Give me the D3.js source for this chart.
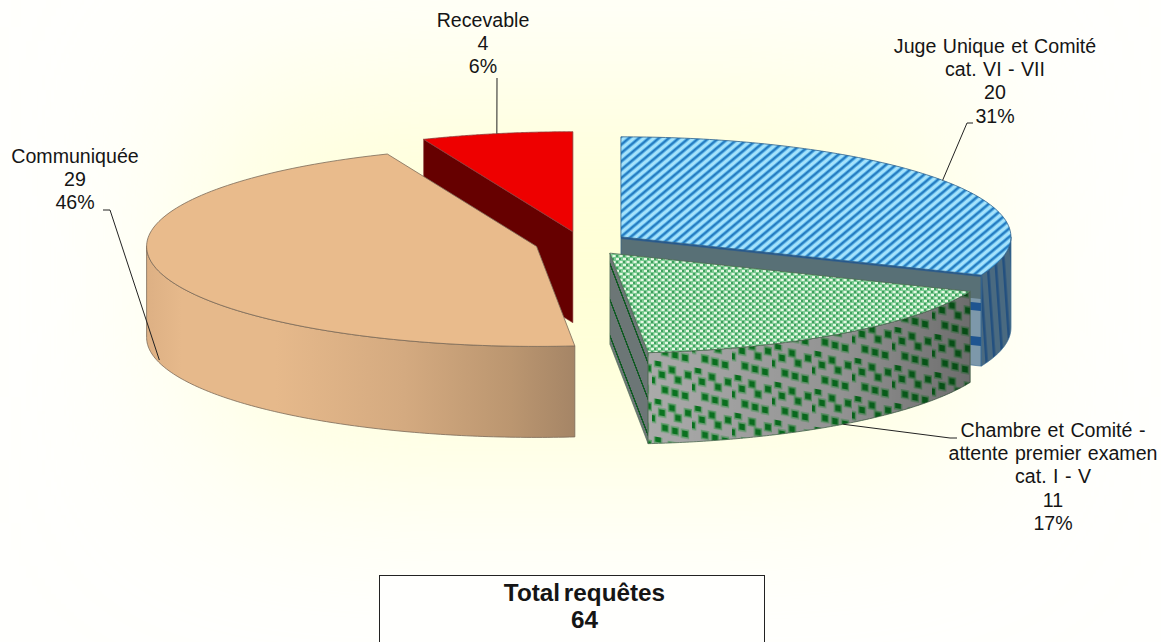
<!DOCTYPE html>
<html>
<head>
<meta charset="utf-8">
<script src="https://cdn.jsdelivr.net/npm/d3@7"></script>
<style>
  html, body { margin: 0; padding: 0; background: #fff; overflow: hidden; }
  svg { display: block; }
  text { font-family: "Liberation Sans", Arial, sans-serif; fill: #151515; }
</style>
</head>
<body>
<svg id="chart" width="1161" height="642"></svg>
<script>
// data
const categories = ['Juge Unique et Comité', 'Chambre et Comité', 'Communiquée', 'Recevable'];
const values = [20, 11, 29, 4];
const percents = ['31%', '17%', '46%', '6%'];
const labelLines = [
  ['Juge Unique et Comité', 'cat. VI - VII'],
  ['Chambre et Comité -', 'attente premier examen', 'cat. I - V'],
  ['Communiquée'],
  ['Recevable'],
];
const totalLines = ['Total requêtes', '64'];

// layout
const width = 1161, height = 642;
const cx = 582, cy = 243.5, rx = 390, ry = 100, depth = 91, explode = 0.12;
const fontSize = 19.6, lineStep = 23.2;

const svg = d3.select('#chart');
const defs = svg.append('defs');

// background: soft yellow glow, blurred rectangle on white
const glow = defs.append('filter').attr('id', 'glow')
  .attr('filterUnits', 'userSpaceOnUse')
  .attr('x', -200).attr('y', -200).attr('width', width + 400).attr('height', height + 400);
glow.append('feGaussianBlur').attr('stdDeviation', 95);
svg.append('rect').attr('width', width).attr('height', height).attr('fill', '#fffffd');
svg.append('rect').attr('x', 210).attr('y', 90).attr('width', 740).attr('height', 370)
  .attr('fill', '#ffffd6').attr('filter', 'url(#glow)');

function pattern(id, w, h, transform, draw) {
  const p = defs.append('pattern').attr('id', id)
    .attr('patternUnits', 'userSpaceOnUse')
    .attr('width', w).attr('height', h);
  if (transform) p.attr('patternTransform', transform);
  draw(p);
}
function box(p, x, y, w, h, c) {
  p.append('rect').attr('x', x).attr('y', y).attr('width', w).attr('height', h).attr('fill', c);
}

// blue diagonal stripes
pattern('blueTop', 6.4, 6.4, 'rotate(-40)', p => {
  box(p, 0, 0, 6.4, 6.4, '#a6e2fb');
  box(p, 0, 2.8, 6.4, 0.9, '#55b2e8');
  box(p, 0, 3.7, 6.4, 1.7, '#1c72ba');
  box(p, 0, 5.4, 6.4, 0.9, '#55b2e8');
});
pattern('blueSide', 8, 20, 'skewX(4)', p => {
  box(p, 0, 0, 8, 20, '#4a6a80');
  box(p, 0, 0, 2.6, 20, '#23507f');
});
// bands run parallel to the top edge of the cut face
pattern('blueCut', 20, 100, 'translate(621,237) skewY(6.03)', p => {
  box(p, 0, 0, 20, 100, '#7d98aa');
  box(p, 0, 0, 20, 24, '#587076');
  box(p, 0, 0, 20, 1.6, '#1e5490');
  box(p, 0, 28, 20, 8, '#1e5490');
  box(p, 0, 62, 20, 9, '#1e5490');
});

// green tiny check on top
pattern('greenTop', 7, 6, null, p => {
  box(p, 0, 0, 7, 6, '#7ccb92');
  box(p, 0, 0, 3, 2, '#e6f7e4');
  box(p, 3.5, 3, 3, 2, '#e6f7e4');
  box(p, 3, 0, 2, 2, '#3f9f5e');
  box(p, 0, 3, 2, 2, '#3f9f5e');
});
// green squares on grey wall
pattern('greenSide', 40, 38, 'translate(652,360) skewY(10)', p => {
  box(p, 0, 0, 40, 38, '#aaaaaa');
  const squares = [[6, 2], [10, 13], [20, 6.5], [13, 27.7], [23, 29], [36, 8.7], [26, 15.5], [0, 20], [33, 30]];
  squares.forEach(d => box(p, d[0] - 4.2, d[1] - 4.6, 8.4, 9.2, '#65a070'));
  squares.forEach(d => box(p, d[0] - 2.8, d[1] - 3, 5.6, 6, '#0a7420'));
});
pattern('greenCut', 20, 36, 'translate(610,262) skewY(69)', p => {
  box(p, 0, 0, 20, 36, '#6c7676');
  box(p, 0, 0, 20, 4, '#0f5a22');
});

// shading on the outer walls
const shade = defs.append('linearGradient').attr('id', 'greenShade')
  .attr('gradientUnits', 'userSpaceOnUse').attr('x1', 648).attr('x2', 970).attr('y1', 0).attr('y2', 0);
[[0, 0], [0.6, 0.14], [1, 0.36]].forEach(s => {
  shade.append('stop').attr('offset', s[0]).attr('stop-color', '#000').attr('stop-opacity', s[1]);
});
const tan = defs.append('linearGradient').attr('id', 'tanSide')
  .attr('gradientUnits', 'userSpaceOnUse').attr('x1', 147).attr('x2', 575).attr('y1', 0).attr('y2', 0);
[[0, '#ddb084'], [0.08, '#e6b98b'], [0.3, '#e6b98b'], [0.6, '#d4aa80'], [0.85, '#bb9670'], [1, '#a58566']].forEach(s => {
  tan.append('stop').attr('offset', s[0]).attr('stop-color', s[1]);
});

const sliceStyles = [
  { top: 'url(#blueTop)', side: 'url(#blueSide)', cut: 'url(#blueCut)', edge: '#2c5f8c' },
  { top: 'url(#greenTop)', side: 'url(#greenSide)', cut: 'url(#greenCut)', edge: '#4c6a52', overlay: 'url(#greenShade)' },
  { top: '#e9bb8c', side: 'url(#tanSide)', cut: '#a58566', edge: '#7b6a58' },
  { top: '#ee0000', side: '#660000', cut: '#660000', edge: '#8a3a3a' },
];

// pie geometry, angles clockwise from 12 o'clock
const pie = d3.pie().sort(null).value(d => d);
const slices = pie(values).map((d, i) => {
  const mid = (d.startAngle + d.endAngle) / 2;
  return {
    i, start: d.startAngle, end: d.endAngle, mid,
    x: cx + explode * rx * Math.sin(mid),
    y: cy - explode * ry * Math.cos(mid),
  };
});
const onRim = (s, a, dy = 0) => [s.x + rx * Math.sin(a), s.y - ry * Math.cos(a) + dy];
const line = d3.line();
const arcPoints = (s, a0, a1, dy) => d3.range(0, 121).map(k => onRim(s, a0 + (a1 - a0) * k / 120, dy));

function outerWall(s) {
  const a0 = Math.max(s.start, Math.PI / 2), a1 = Math.min(s.end, 3 * Math.PI / 2);
  if (a1 <= a0) return null;
  return line(arcPoints(s, a0, a1, 0).concat(arcPoints(s, a1, a0, depth))) + 'Z';
}
function cutWall(s, a) {
  return line([[s.x, s.y], onRim(s, a), onRim(s, a, depth), [s.x, s.y + depth]]) + 'Z';
}

// back slices first
const order = slices.slice().sort((a, b) => Math.cos(b.mid) - Math.cos(a.mid));
order.forEach(s => {
  const st = sliceStyles[s.i];
  const g = svg.append('g').attr('class', 'slice');
  const faces = [];
  if (Math.sin(s.start) < -1e-6) faces.push(s.start);
  if (Math.sin(s.end) > 1e-6) faces.push(s.end);
  faces.forEach(a => {
    g.append('path').attr('d', cutWall(s, a)).attr('fill', st.cut)
      .attr('stroke', st.edge).attr('stroke-width', 0.6);
  });
  const wall = outerWall(s);
  if (wall) {
    g.append('path').attr('d', wall).attr('fill', st.side)
      .attr('stroke', st.edge).attr('stroke-width', 0.8);
    if (st.overlay) g.append('path').attr('d', wall).attr('fill', st.overlay);
  }
  const top = line([[s.x, s.y]].concat(arcPoints(s, s.start, s.end, 0))) + 'Z';
  g.append('path').attr('d', top).attr('fill', st.top)
    .attr('stroke', st.edge).attr('stroke-width', 0.8);
});

// leader lines: from the label to the slice rim
const leaders = [
  { slice: 0, angle: 0.97, dy: 0, from: [[973, 123], [967, 123]] },
  { slice: 1, angle: 2.5, dy: depth, from: [[957, 438], [950, 438]] },
  { slice: 2, angle: 4.456, dy: depth * 0.97, from: [[103, 210], [110, 210]] },
  { slice: 3, angle: 6.087, dy: 0, from: [[497, 78]] },
];
leaders.forEach(l => {
  svg.append('path').attr('fill', 'none').attr('stroke', '#222').attr('stroke-width', 1)
    .attr('d', line(l.from.concat([onRim(slices[l.slice], l.angle, l.dy)])));
});

// data labels
const labelAnchors = [[995, 53], [1053, 437], [75, 163], [483, 27]];
labelLines.forEach((lines, i) => {
  const all = lines.concat([String(values[i]), percents[i]]);
  svg.append('text').attr('class', 'label ' + categories[i].split(' ')[0].toLowerCase())
    .attr('text-anchor', 'middle').attr('font-size', fontSize).attr('word-spacing', 1)
    .selectAll('tspan').data(all).join('tspan')
    .attr('x', labelAnchors[i][0])
    .attr('y', (d, k) => labelAnchors[i][1] + k * lineStep)
    .text(d => d);
});

// total box
svg.append('rect').attr('x', 379.5).attr('y', 575.5).attr('width', 385).attr('height', 80)
  .attr('fill', '#fffffd').attr('stroke', '#222').attr('stroke-width', 1);
svg.append('text').attr('text-anchor', 'middle').attr('font-size', 24.3).attr('font-weight', 'bold')
  .attr('word-spacing', -3)
  .selectAll('tspan').data(totalLines).join('tspan')
  .attr('x', 584.5).attr('y', (d, k) => 601 + k * 27).text(d => d);
</script>
</body>
</html>
